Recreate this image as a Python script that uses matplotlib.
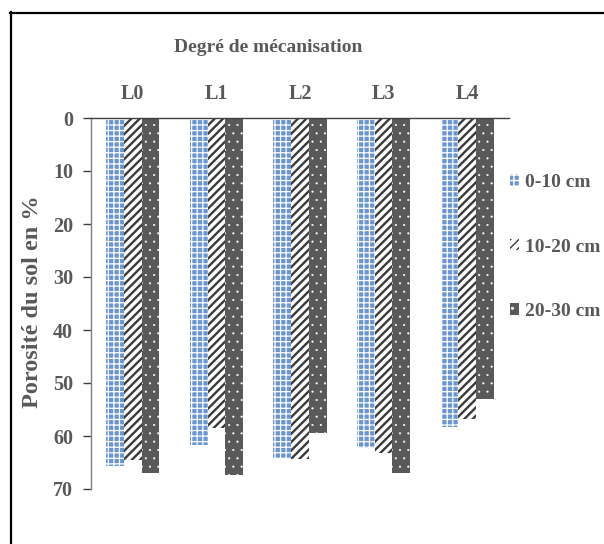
import matplotlib
matplotlib.use("Agg")
import matplotlib.pyplot as plt
import numpy as np
from matplotlib.lines import Line2D

categories = ["L0", "L1", "L2", "L3", "L4"]
series_names = ["0-10 cm", "10-20 cm", "20-30 cm"]
s_0_10 = [65.7, 61.7, 64.2, 62.2, 58.3]
s_10_20 = [64.5, 58.5, 64.3, 63.3, 56.7]
s_20_30 = [67.0, 67.3, 59.4, 66.9, 53.1]
yticks = [0, 10, 20, 30, 40, 50, 60, 70]

FONT = "Liberation Serif"
TXT = "#595959"
plt.rcParams['font.family'] = [FONT, 'DejaVu Serif']
plt.rcParams['font.weight'] = 'bold'

W, H = 604, 544
fig = plt.figure(figsize=(W / 100, H / 100), dpi=100)
ax = fig.add_axes([91 / W, 1 - 489 / H, (509 - 91) / W, (489 - 118) / H])

x = np.arange(len(categories))
bw = 0.212
styles = [
    dict(facecolor="#6a95cf", edgecolor="white", hatch="+++", hlw=0.9),
    dict(facecolor="white", edgecolor="#3a3a3a", hatch="////", hlw=1.7),
    dict(facecolor="#595959", edgecolor="white", hatch="..", hlw=0.3),
]
data = [s_0_10, s_10_20, s_20_30]
handles = []
for k, (vals, st) in enumerate(zip(data, styles)):
    old = plt.rcParams['hatch.linewidth']
    plt.rcParams['hatch.linewidth'] = st["hlw"]
    bars = ax.bar(x + (k - 1) * bw, vals, width=bw, facecolor=st["facecolor"],
                  edgecolor=st["edgecolor"], hatch=st["hatch"], linewidth=0,
                  label=series_names[k], zorder=2)
    for b in bars:
        if hasattr(b, "set_hatch_linewidth"):
            b.set_hatch_linewidth(st["hlw"])
    plt.rcParams['hatch.linewidth'] = old
    handles.append(bars)

ax.set_xlim(-0.5, len(categories) - 0.5)
ax.set_ylim(70, 0)
ax.set_yticks(yticks)
ax.set_yticklabels([str(t) for t in yticks], fontsize=14.5, color=TXT,
                   fontweight='bold', family=FONT)
ax.xaxis.tick_top()
ax.set_xticks(x)
ax.set_xticklabels(categories, fontsize=14.5, color=TXT, fontweight='bold', family=FONT)
ax.tick_params(axis='x', length=0, pad=10)
ax.tick_params(axis='y', length=6, width=1, color="#404040", direction='out', pad=7)

for s in ["right", "bottom"]:
    ax.spines[s].set_visible(False)
ax.spines["left"].set_color("#7f7f7f")
ax.spines["left"].set_linewidth(1.0)
ax.spines["top"].set_color("#404040")
ax.spines["top"].set_linewidth(1.0)

fig.text(268.5 / W, 1 - 47 / H, "Degré de mécanisation", ha='center', va='center',
         fontsize=14, color=TXT, fontweight='bold', family=FONT)
fig.text(33 / W, 1 - 301.5 / H, "Porosité du sol en %", ha='center', va='center',
         rotation=90, fontsize=17.5, color=TXT, fontweight='bold', family=FONT)

leg = fig.legend(handles=handles, labels=series_names, loc='center left',
                 bbox_to_anchor=(510 / W, 1 - 247 / H), frameon=False,
                 prop=dict(family=FONT, weight='bold', size=14),
                 handlelength=0.45, handleheight=0.55, handletextpad=0.3,
                 labelspacing=2.45, borderpad=0, borderaxespad=0)
for t in leg.get_texts():
    t.set_color(TXT)

fig.add_artist(Line2D([10.5 / W, 10.5 / W], [0, 1 - 12 / H], color="black",
                      linewidth=1.6, transform=fig.transFigure))
fig.add_artist(Line2D([10 / W, 1], [1 - 12.5 / H, 1 - 12.5 / H], color="black",
                      linewidth=1.6, transform=fig.transFigure))

fig.savefig("out.png", dpi=100)
